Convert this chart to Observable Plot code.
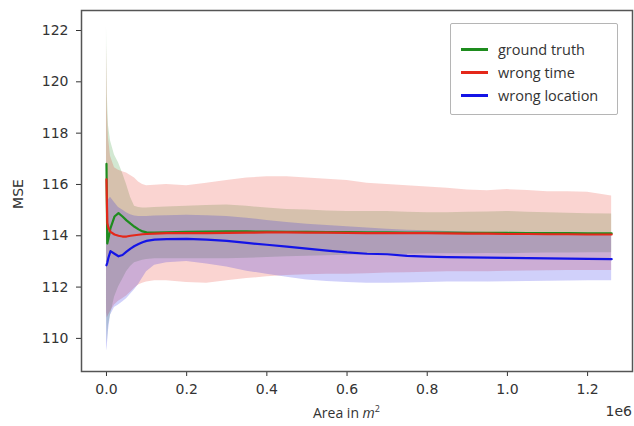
<!DOCTYPE html>
<html>
<head>
<meta charset="utf-8">
<script src="https://cdn.jsdelivr.net/npm/d3@7"></script>
<script src="https://cdn.jsdelivr.net/npm/@observablehq/plot@0.6"></script>
<style>
  html, body { margin: 0; padding: 0; background: #fff; }
  #wrap { position: relative; width: 634px; height: 426px; overflow: hidden; }
  .lbl { position: absolute; color: #333; white-space: nowrap; }
  #legend { position: absolute; left: 450px; top: 23px; width: 168px; height: 92px;
            border: 1.5px solid #b5b5b5; border-radius: 2px; box-sizing: border-box; background: rgba(255,255,255,0.8); }
  .item { position: absolute; left: 10px; height: 20px; display: flex; align-items: center;
          font-family: "Open Sans", sans-serif; font-size: 14.5px; color: #333; }
  .sw { width: 27px; height: 3px; margin-right: 10px; }
</style>
</head>
<body>
<div id="wrap"></div>
<script>
// x positions in units of 1e6 m^2
const X = [0, 0.002, 0.005, 0.01, 0.02, 0.03, 0.04, 0.05, 0.06, 0.07, 0.08, 0.09, 0.1, 0.12, 0.15, 0.2, 0.25, 0.3, 0.35, 0.4, 0.45, 0.5, 0.55, 0.6, 0.65, 0.7, 0.75, 0.8, 0.85, 0.9, 0.95, 1.0, 1.05, 1.1, 1.15, 1.2, 1.26];

const seriesNames = ["ground truth", "wrong time", "wrong location"];
const seriesColors = ["#1e8c1e", "#e4281a", "#1414e6"];

const gtMean = [116.8, 113.7, 113.9, 114.3, 114.75, 114.88, 114.75, 114.6, 114.47, 114.35, 114.25, 114.17, 114.13, 114.12, 114.13, 114.15, 114.16, 114.17, 114.17, 114.16, 114.15, 114.15, 114.14, 114.14, 114.13, 114.13, 114.12, 114.12, 114.12, 114.11, 114.11, 114.11, 114.1, 114.1, 114.1, 114.09, 114.09];
const gtLo = [111.4, 109.8, 110.5, 110.9, 111.6, 112.0, 112.3, 112.6, 112.8, 112.95, 113.0, 113.05, 113.08, 113.1, 113.1, 113.1, 113.1, 113.1, 113.12, 113.15, 113.18, 113.2, 113.22, 113.24, 113.25, 113.26, 113.28, 113.3, 113.3, 113.3, 113.31, 113.3, 113.32, 113.33, 113.33, 113.34, 113.34];
const gtHi = [122.2, 119.5, 118.3, 117.7, 117.15, 116.85, 116.45, 116.0, 115.5, 115.15, 115.1, 115.08, 115.08, 115.1, 115.12, 115.15, 115.18, 115.2, 115.15, 115.08, 115.02, 115.0, 114.97, 114.95, 114.95, 114.95, 114.92, 114.9, 114.9, 114.92, 114.93, 114.95, 114.92, 114.9, 114.88, 114.86, 114.85];

const wtMean = [116.2, 114.5, 114.3, 114.15, 114.05, 114.0, 113.97, 113.97, 114.0, 114.02, 114.04, 114.06, 114.07, 114.08, 114.1, 114.1, 114.1, 114.11, 114.12, 114.13, 114.13, 114.12, 114.12, 114.11, 114.1, 114.1, 114.1, 114.1, 114.09, 114.08, 114.08, 114.07, 114.07, 114.06, 114.06, 114.05, 114.05];
const wtLo = [111.0, 110.8, 110.9, 111.05, 111.3, 111.45, 111.55, 111.65, 111.8, 111.95, 112.08, 112.15, 112.2, 112.25, 112.25, 112.18, 112.15, 112.25, 112.33, 112.4, 112.45, 112.48, 112.5, 112.5, 112.52, 112.55, 112.56, 112.58, 112.6, 112.6, 112.6, 112.62, 112.63, 112.64, 112.65, 112.65, 112.65];
const wtHi = [121.5, 119.0, 117.8, 117.1, 116.65, 116.55, 116.5, 116.45, 116.35, 116.25, 116.1, 116.0, 115.95, 115.97, 116.0, 115.95, 116.05, 116.15, 116.25, 116.3, 116.3, 116.25, 116.2, 116.15, 116.05, 116.0, 115.95, 115.9, 115.85, 115.78, 115.75, 115.8, 115.76, 115.72, 115.72, 115.7, 115.55];

const wlMean = [112.85, 112.95, 113.15, 113.4, 113.3, 113.2, 113.25, 113.38, 113.5, 113.6, 113.68, 113.75, 113.8, 113.85, 113.87, 113.88, 113.85, 113.8, 113.72, 113.65, 113.58, 113.5, 113.42, 113.35, 113.3, 113.28, 113.22, 113.19, 113.17, 113.16, 113.15, 113.14, 113.13, 113.12, 113.11, 113.1, 113.09];
const wlLo = [109.5, 109.7, 110.3, 110.9, 111.2, 111.3, 111.42, 111.55, 111.72, 111.9, 112.1, 112.35, 112.6, 112.85, 112.95, 113.0, 112.9, 112.78, 112.62, 112.5, 112.38, 112.28, 112.22, 112.18, 112.15, 112.15, 112.16, 112.18, 112.2, 112.2, 112.2, 112.21, 112.22, 112.23, 112.24, 112.25, 112.25];
const wlHi = [115.0, 115.2, 115.4, 115.5, 115.3, 115.1, 115.0, 114.9, 114.82, 114.77, 114.75, 114.75, 114.75, 114.77, 114.78, 114.8, 114.78, 114.75, 114.68, 114.6, 114.52, 114.45, 114.4, 114.35, 114.3, 114.25, 114.22, 114.2, 114.17, 114.15, 114.13, 114.1, 114.08, 114.06, 114.05, 114.04, 114.03];

const xTicks = [0, 0.2, 0.4, 0.6, 0.8, 1.0, 1.2];
const yTicks = [110, 112, 114, 116, 118, 120, 122];

const means = [gtMean, wtMean, wlMean];
const los = [gtLo, wtLo, wlLo];
const his = [gtHi, wtHi, wlHi];

const rows = [];
seriesNames.forEach((s, k) => {
  X.forEach((x, i) => rows.push({series: s, x, mean: means[k][i], lo: los[k][i], hi: his[k][i]}));
});

const colorOf = s => seriesColors[seriesNames.indexOf(s)];

const marks = [];
seriesNames.forEach(s => {
  marks.push(Plot.areaY(rows.filter(d => d.series === s), {x: "x", y1: "lo", y2: "hi", fill: colorOf(s), fillOpacity: 0.2, curve: "linear"}));
});
seriesNames.forEach(s => {
  marks.push(Plot.lineY(rows.filter(d => d.series === s), {x: "x", y: "mean", stroke: colorOf(s), strokeWidth: 2.2}));
});
marks.push(Plot.axisX({ticks: xTicks, tickFormat: d3.format(".1f"), tickSize: 5, tickPadding: 8, label: null, fontSize: 14}));
marks.push(Plot.axisY({ticks: yTicks, tickFormat: d3.format("d"), tickSize: 5, tickPadding: 8, label: null, fontSize: 14}));
marks.push(Plot.frame({stroke: "#555", strokeWidth: 1.5}));

const chart = Plot.plot({
  width: 634,
  height: 426,
  marginLeft: 81,
  marginRight: 2,
  marginTop: 10,
  marginBottom: 55,
  x: {domain: [-0.0623, 1.312]},
  y: {domain: [108.71, 122.78]},
  style: {fontFamily: "DejaVu Sans, sans-serif", color: "#333", background: "#fff"},
  marks
});

const wrap = document.getElementById("wrap");
wrap.appendChild(chart);

function addLabel(html, css) {
  const d = document.createElement("div");
  d.className = "lbl";
  d.innerHTML = html;
  Object.assign(d.style, css);
  wrap.appendChild(d);
  return d;
}
addLabel("Area in <i>m</i><sup style='font-size:9px'>2</sup>", {left: "313px", top: "402px", fontFamily: "Open Sans, sans-serif", fontSize: "14px"});
addLabel("1e6", {right: "2px", top: "403px", fontFamily: "DejaVu Sans, sans-serif", fontSize: "14px"});
addLabel("MSE", {left: "18px", top: "194px", fontFamily: "DejaVu Sans, sans-serif", fontSize: "14px", transform: "translate(-50%,-50%) rotate(-90deg)"});

const leg = document.createElement("div");
leg.id = "legend";
seriesNames.forEach((s, k) => {
  const it = document.createElement("div");
  it.className = "item";
  it.style.top = (15 + k * 23) + "px";
  it.innerHTML = `<span class="sw" style="background:${seriesColors[k]}"></span>${s}`;
  leg.appendChild(it);
});
wrap.appendChild(leg);
</script>
</body>
</html>
